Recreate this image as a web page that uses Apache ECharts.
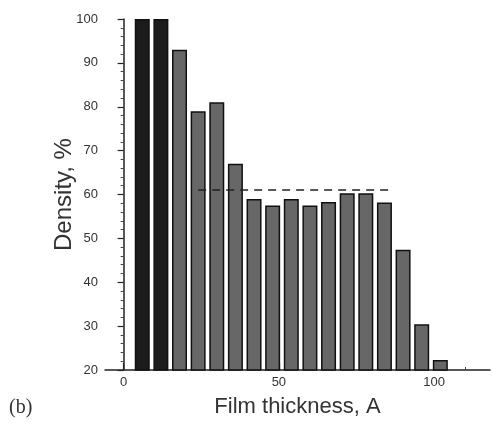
<!DOCTYPE html>
<html>
<head>
<meta charset="utf-8">
<script src="https://cdn.jsdelivr.net/npm/echarts@6/dist/echarts.min.js"></script>
<style>
  html, body { margin: 0; padding: 0; background: #fff; }
  #chart { width: 492px; height: 428px; }
</style>
</head>
<body>
<div id="chart"></div>
<script>
// film thickness (A) at each bar centre, and density (%)
var thickness = [6, 12, 18, 24, 30, 36, 42, 48, 54, 60, 66, 72, 78, 84, 90, 96, 102];
var density = [100, 100, 93, 79, 81, 67, 59, 57.5, 59, 57.5, 58.3, 60.3, 60.3, 58.2, 47.4, 30.4, 22.3];
// dashed reference level
var refX = [24, 86];
var refY = 61;
var xLabels = [0, 50, 100];

var chart = echarts.init(document.getElementById("chart"));

var barData = thickness.map(function (x, i) {
  var dark = i < 2;
  return {
    value: [x, density[i]],
    itemStyle: { color: dark ? "#1c1c1c" : "#676767" },
  };
});

chart.setOption({
  animation: false,
  textStyle: { fontFamily: "Liberation Sans", color: "#333" },
  grid: { left: 105, right: 2, top: 19, bottom: 58 },
  xAxis: [
    {
      type: "value",
      min: -6,
      max: 118,
      name: "Film thickness, A",
      nameLocation: "middle",
      nameGap: 26,
      nameMoveOverlap: false,
      nameTextStyle: { fontSize: 22, color: "#333" },
      axisLine: { lineStyle: { color: "#222", width: 1.5 } },
      axisTick: {
        inside: true,
        length: 7,
        customValues: xLabels,
        lineStyle: { color: "#222", width: 1.2 },
      },
      axisLabel: {
        customValues: xLabels,
        fontSize: 13,
        color: "#333",
        margin: 6,
      },
      splitLine: { show: false },
    },
    {
      type: "value",
      min: -6,
      max: 118,
      position: "bottom",
      axisLine: { show: false },
      axisTick: {
        inside: true,
        length: 3,
        customValues: [10, 20, 30, 40, 60, 70, 80, 90, 110],
        lineStyle: { color: "#444", width: 1 },
      },
      axisLabel: { show: false },
      splitLine: { show: false },
    },
  ],
  yAxis: {
    type: "value",
    min: 20,
    max: 100,
    interval: 10,
    name: "Density, %",
    nameLocation: "middle",
    nameGap: 29,
    nameMoveOverlap: false,
    nameTextStyle: { fontSize: 24, color: "#333" },
    axisLine: { show: true, lineStyle: { color: "#222", width: 1.5 } },
    axisTick: { show: true, length: 6, lineStyle: { color: "#222", width: 1.2 } },
    minorTick: { show: true, splitNumber: 5, length: 3, lineStyle: { color: "#444" } },
    axisLabel: { fontSize: 13, color: "#333", margin: 7 },
    splitLine: { show: false },
  },
  series: [
    {
      type: "bar",
      data: barData,
      barWidth: 15,
      itemStyle: { borderColor: "#111", borderWidth: 1.5 },
    },
    {
      type: "line",
      data: [[refX[0], refY], [refX[1], refY]],
      symbol: "none",
      lineStyle: { color: "#222", width: 1.5, type: [8, 6] },
      z: 5,
    },
  ],
  graphic: [
    {
      type: "text",
      left: 9,
      top: 398,
      style: { text: "(b)", font: "20px 'Liberation Serif'", fill: "#333" },
    },
  ],
});
</script>
</body>
</html>
